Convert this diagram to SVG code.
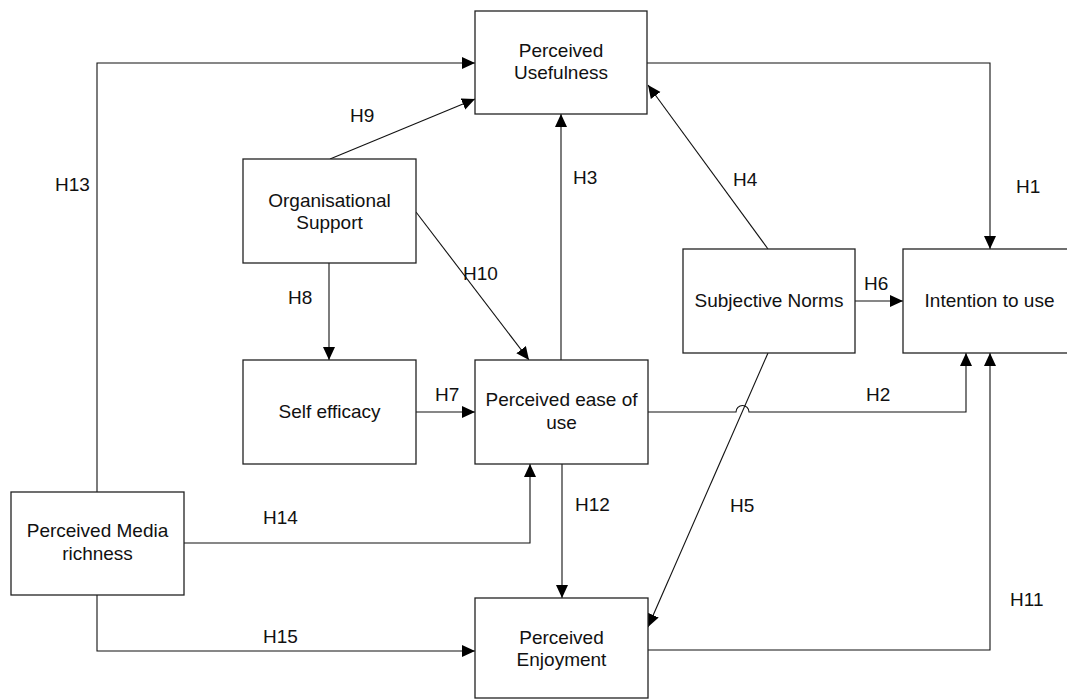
<svg xmlns="http://www.w3.org/2000/svg" width="1067" height="699" viewBox="0 0 1067 699">
<style>
.box{fill:#fff;stroke:#222;stroke-width:1.3}
.t{font-family:"Liberation Sans",Arial,sans-serif;font-size:19px;fill:#111;text-anchor:middle}
.l{font-family:"Liberation Sans",Arial,sans-serif;font-size:19px;fill:#111}
.c{fill:none;stroke:#111;stroke-width:1.1}
</style>
<defs>
<marker id="ah" markerUnits="userSpaceOnUse" markerWidth="14" markerHeight="13" refX="13" refY="6" orient="auto">
<path d="M0,0 L13,6 L0,12 z" fill="#000"/>
</marker>
</defs>
<rect width="1067" height="699" fill="#fff"/>
<g id="connectors">
<path class="c" d="M97,492 V63 H475" marker-end="url(#ah)"/>
<path class="c" d="M330,159 L475,99" marker-end="url(#ah)"/>
<path class="c" d="M561,360 V114" marker-end="url(#ah)"/>
<path class="c" d="M768,249 L648,85" marker-end="url(#ah)"/>
<path class="c" d="M647,63 H990 V249" marker-end="url(#ah)"/>
<path class="c" d="M416,212 L529,360" marker-end="url(#ah)"/>
<path class="c" d="M329,263 V360" marker-end="url(#ah)"/>
<path class="c" d="M416,412 H475" marker-end="url(#ah)"/>
<path class="c" d="M855,301 H903" marker-end="url(#ah)"/>
<path class="c" d="M648,412 H736 A6.5,6.5 0 0 1 749,412 H966 V353" marker-end="url(#ah)"/>
<path class="c" d="M768,353 L648,627" marker-end="url(#ah)"/>
<path class="c" d="M562,464 V598" marker-end="url(#ah)"/>
<path class="c" d="M184,543 H530 V464" marker-end="url(#ah)"/>
<path class="c" d="M97,595 V651 H475" marker-end="url(#ah)"/>
<path class="c" d="M648,650 H990 V353" marker-end="url(#ah)"/>
</g>
<g id="labels">
<text class="l" x="55" y="191">H13</text>
<text class="l" x="350" y="122">H9</text>
<text class="l" x="573" y="184">H3</text>
<text class="l" x="733" y="186">H4</text>
<text class="l" x="1016" y="193">H1</text>
<text class="l" x="463" y="280">H10</text>
<text class="l" x="288" y="304">H8</text>
<text class="l" x="435" y="401">H7</text>
<text class="l" x="864" y="290">H6</text>
<text class="l" x="866" y="401">H2</text>
<text class="l" x="263" y="524">H14</text>
<text class="l" x="575" y="511">H12</text>
<text class="l" x="730" y="512">H5</text>
<text class="l" x="1010" y="606">H11</text>
<text class="l" x="263" y="643">H15</text>
</g>
<g id="perceived-usefulness">
<rect class="box" x="475" y="11" width="172" height="103"/>
<text class="t" x="561" y="57">Perceived</text>
<text class="t" x="561" y="79">Usefulness</text>
</g>
<g id="organisational-support">
<rect class="box" x="243" y="159" width="173" height="104"/>
<text class="t" x="329.5" y="207">Organisational</text>
<text class="t" x="329.5" y="229">Support</text>
</g>
<g id="self-efficacy">
<rect class="box" x="243" y="360" width="173" height="104"/>
<text class="t" x="329.5" y="418">Self efficacy</text>
</g>
<g id="perceived-ease-of-use">
<rect class="box" x="475" y="360" width="173" height="104"/>
<text class="t" x="561.5" y="406">Perceived ease of</text>
<text class="t" x="561.5" y="429">use</text>
</g>
<g id="subjective-norms">
<rect class="box" x="683" y="249" width="172" height="104"/>
<text class="t" x="769" y="307">Subjective Norms</text>
</g>
<g id="intention-to-use">
<rect class="box" x="903" y="249" width="173" height="104"/>
<text class="t" x="989.5" y="307">Intention to use</text>
</g>
<g id="perceived-media-richness">
<rect class="box" x="11" y="492" width="173" height="103"/>
<text class="t" x="97.5" y="537">Perceived Media</text>
<text class="t" x="97.5" y="560">richness</text>
</g>
<g id="perceived-enjoyment">
<rect class="box" x="475" y="598" width="173" height="100"/>
<text class="t" x="561.5" y="644">Perceived</text>
<text class="t" x="561.5" y="666">Enjoyment</text>
</g>
</svg>
